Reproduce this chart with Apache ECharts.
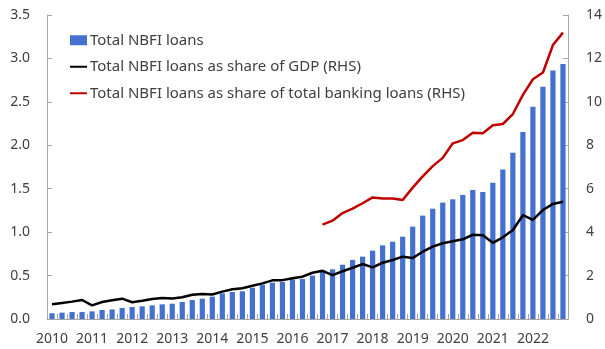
<!DOCTYPE html>
<html>
<head>
<meta charset="utf-8">
<script src="https://cdn.jsdelivr.net/npm/echarts@6/dist/echarts.min.js"></script>
<style>html,body{margin:0;padding:0;background:#fff;}#c{width:605px;height:349px;}</style>
</head>
<body>
<div id="c"></div>
<script>
const years = ['2010','2011','2012','2013','2014','2015','2016','2017','2018','2019','2020','2021','2022'];
const quarters = ['Q1','Q2','Q3','Q4'];
const categories = [];
years.forEach(y => quarters.forEach(q => categories.push(y + q)));

const nbfiLoans = [
  0.066, 0.073, 0.080, 0.080,
  0.088, 0.104, 0.110, 0.127,
  0.138, 0.146, 0.157, 0.169,
  0.176, 0.196, 0.219, 0.234,
  0.257, 0.295, 0.311, 0.319,
  0.360, 0.395, 0.418, 0.426,
  0.457, 0.460, 0.500, 0.564,
  0.572, 0.625, 0.680, 0.718,
  0.787, 0.848, 0.890, 0.948,
  1.063, 1.190, 1.270, 1.340,
  1.378, 1.428, 1.485, 1.462,
  1.570, 1.720, 1.915, 2.153,
  2.444, 2.675, 2.860, 2.936
];

const shareGdp = [
  0.68, 0.74, 0.80, 0.875,
  0.63, 0.78, 0.86, 0.935,
  0.77, 0.84, 0.92, 0.97,
  0.94, 1.00, 1.12, 1.15,
  1.13, 1.26, 1.37, 1.42,
  1.53, 1.64, 1.78, 1.79,
  1.88, 1.95, 2.13, 2.22,
  2.02, 2.20, 2.36, 2.53,
  2.38, 2.59, 2.72, 2.87,
  2.81, 3.10, 3.33, 3.49,
  3.58, 3.67, 3.88, 3.86,
  3.51, 3.76, 4.10, 4.78,
  4.56, 5.02, 5.30, 5.40
];

const shareBanking = [
  null, null, null, null,
  null, null, null, null,
  null, null, null, null,
  null, null, null, null,
  null, null, null, null,
  null, null, null, null,
  null, null, null, 4.35,
  4.53, 4.88, 5.08, 5.33,
  5.60, 5.55, 5.55, 5.48,
  6.05, 6.57, 7.04, 7.42,
  8.09, 8.24, 8.58, 8.55,
  8.92, 8.98, 9.44, 10.32,
  11.04, 11.35, 12.62, 13.19
];

const leftTicks = {min: 0, max: 3.5, interval: 0.5};
const rightTicks = {min: 0, max: 14, interval: 2};

const seriesNames = ['Total NBFI loans', 'Total NBFI loans as share of GDP (RHS)', 'Total NBFI loans as share of total banking loans (RHS)'];

const font = '"Noto Sans", "Open Sans", sans-serif';
const axisColor = '#a6a6a6';
const textColor = '#404040';

const chart = echarts.init(document.getElementById('c'), null, {renderer: 'canvas'});
chart.setOption({
  animation: false,
  backgroundColor: '#fff',
  textStyle: {fontFamily: font},
  grid: {left: 47, right: 33, top: 15, bottom: 30, containLabel: false},
  legend: {
    orient: 'vertical',
    left: 69, top: 31,
    padding: 0,
    itemGap: 8,
    itemWidth: 17, itemHeight: 10,
    textStyle: {fontFamily: font, fontSize: 15, color: textColor, lineHeight: 18.5, padding: [0,0,0,-2]},
    data: [
      {name: seriesNames[0], icon: 'rect'},
      {name: seriesNames[1], itemStyle: {opacity: 0}, lineStyle: {width: 2}},
      {name: seriesNames[2], itemStyle: {opacity: 0}, lineStyle: {width: 2}}
    ]
  },
  xAxis: {
    type: 'category',
    data: categories,
    boundaryGap: true,
    axisLine: {lineStyle: {color: axisColor, width: 1}},
    axisTick: {show: true, inside: true, length: 5, interval: 0, lineStyle: {color: axisColor}},
    axisLabel: {
      interval: 3,
      formatter: v => v.slice(0, 4),
      fontFamily: font, fontSize: 14, color: textColor, margin: 13
    },
    splitLine: {show: false}
  },
  yAxis: [
    {
      type: 'value',
      min: leftTicks.min, max: leftTicks.max, interval: leftTicks.interval,
      position: 'left',
      axisLine: {show: true, lineStyle: {color: axisColor}},
      axisTick: {show: true, inside: true, length: 5, lineStyle: {color: axisColor}},
      axisLabel: {formatter: v => v.toFixed(1), fontFamily: font, fontSize: 14, color: textColor, margin: 17},
      splitLine: {show: false}
    },
    {
      type: 'value',
      min: rightTicks.min, max: rightTicks.max, interval: rightTicks.interval,
      position: 'right',
      axisLine: {show: true, lineStyle: {color: axisColor}},
      axisTick: {show: true, inside: true, length: 5, lineStyle: {color: axisColor}},
      axisLabel: {fontFamily: font, fontSize: 14, color: textColor, margin: 18},
      splitLine: {show: false}
    }
  ],
  series: [
    {
      name: seriesNames[0], type: 'bar', yAxisIndex: 0,
      data: nbfiLoans, barWidth: '52%',
      itemStyle: {color: '#4470d0'}
    },
    {
      name: seriesNames[1], type: 'line', yAxisIndex: 1,
      data: shareGdp, symbol: 'none', smooth: false,
      lineStyle: {color: '#000000', width: 2.5},
      itemStyle: {color: '#000000'}
    },
    {
      name: seriesNames[2], type: 'line', yAxisIndex: 1,
      data: shareBanking, symbol: 'none', smooth: false, connectNulls: false,
      lineStyle: {color: '#c00000', width: 2.5},
      itemStyle: {color: '#c00000'}
    }
  ]
});
</script>
</body>
</html>
